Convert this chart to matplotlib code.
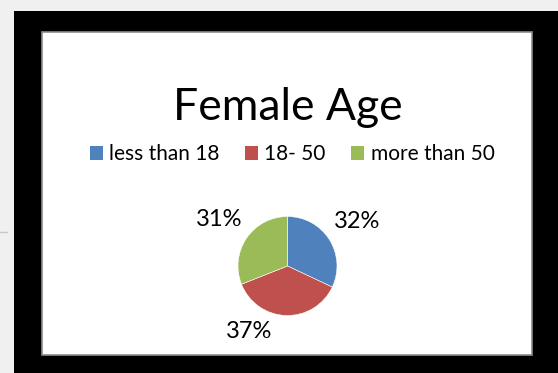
import numpy as np
import matplotlib.pyplot as plt
from matplotlib.patches import Rectangle
from matplotlib.lines import Line2D

# data
categories = ['less than 18', '18- 50', 'more than 50']
shares = [32, 37, 31]
colors = ['#4F81BD', '#C0504D', '#9BBB59']
title = 'Female Age'

plt.rcParams['font.family'] = ['Lato', 'DejaVu Sans']

W, H = 558, 373
fig = plt.figure(figsize=(W / 100, H / 100), dpi=100)
fig.patch.set_facecolor('#f0f0f0')

def px(x, y, w, h):
    # pixel box (from top-left) -> figure fraction
    return (x / W, 1 - (y + h) / H, w / W, h / H)

# black frame and white chart area
x0, y0, w0, h0 = px(14, 11, W - 14, H - 11)
fig.patches.append(Rectangle((x0, y0), w0, h0, transform=fig.transFigure,
                             facecolor='black', edgecolor='none', zorder=0))
x1, y1, w1, h1 = px(42, 32, 490, 323)
fig.patches.append(Rectangle((x1, y1), w1, h1, transform=fig.transFigure,
                             facecolor='white', edgecolor='#8c8c8c', linewidth=1.2, zorder=1))
fig.lines.append(Line2D([0, 7 / W], [1 - 232 / H] * 2, transform=fig.transFigure,
                        color='#c8c8c8', linewidth=1))

fig.text(288 / W, 1 - 108 / H, title, ha='center', va='center', fontsize=32,
         color='black', zorder=5)

# pie
r = 49.5
cx, cy = 287.5, 266
ax = fig.add_axes(px(cx - r, cy - r, 2 * r, 2 * r))
ax.set_zorder(5)
wedges, _ = ax.pie(shares, colors=colors, startangle=90, counterclock=False,
                   wedgeprops=dict(edgecolor='white', linewidth=0.4))
ax.set_xlim(-1, 1)
ax.set_ylim(-1, 1)
ax.set_aspect('equal')

# percentage labels placed around the wedge mid-angles (Excel best fit)
label_dist = [1.66, 1.53, 1.68]
label_shift = [0, -29, 0]
for w, s, d, sh in zip(wedges, shares, label_dist, label_shift):
    ang = np.deg2rad((w.theta1 + w.theta2) / 2 + sh)
    ax.text(d * np.cos(ang), d * np.sin(ang), f'{s}%', ha='center', va='center',
            fontsize=17, clip_on=False)

handles = [Rectangle((0, 0), 1, 1, facecolor=c, edgecolor='none') for c in colors]
leg = fig.legend(handles, categories, loc='center', bbox_to_anchor=(292 / W, 1 - 154 / H),
                 ncol=3, frameon=False, fontsize=15, handlelength=0.65, handleheight=0.65,
                 handletextpad=0.3, columnspacing=1.2, borderpad=0)
leg.set_zorder(5)

fig.savefig('out.png', dpi=100, facecolor=fig.get_facecolor())
